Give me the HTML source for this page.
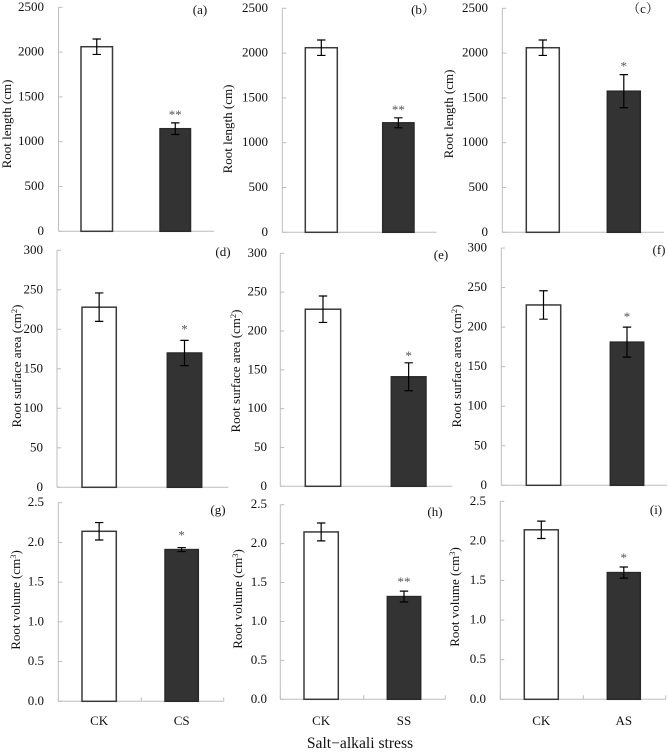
<!DOCTYPE html>
<html>
<head>
<meta charset="utf-8">
<title>Root traits under salt-alkali stress</title>
<style>
html,body{margin:0;padding:0;background:#fff;}
svg{display:block;filter:blur(0.3px);}
text{font-family:"Liberation Serif","Noto Serif CJK SC",serif;fill:#111;}
</style>
</head>
<body>
<svg id="figure" xmlns="http://www.w3.org/2000/svg" width="668" height="752" viewBox="0 0 668 752"></svg>
<script>
// ---- chart data ----
const stressCategories = ["CS", "SS", "AS"];
const controlCategory = "CK";
const panelLetters = ["(a)", "(b\uFF09", "\uFF08c\uFF09", "(d)", "(e)", "(f)", "(g)", "(h)", "(i)"];

const lengthTicks = [0, 500, 1000, 1500, 2000, 2500];
const areaTicks = [0, 50, 100, 150, 200, 250, 300];
const volumeTicks = [0, 0.5, 1, 1.5, 2, 2.5];

const lengthControlMeans = [2060, 2060, 2060];
const lengthControlErrors = [86, 86, 86];
const lengthStressMeans = [1145, 1222, 1575];
const lengthStressErrors = [65, 56, 185];
const lengthStars = ["**", "**", "*"];

const areaControlMeans = [228, 228, 228];
const areaControlErrors = [18, 17, 18];
const areaStressMeans = [170, 141, 181];
const areaStressErrors = [16, 18, 19];
const areaStars = ["*", "*", "*"];

const volumeControlMeans = [2.14, 2.15, 2.14];
const volumeControlErrors = [0.11, 0.115, 0.11];
const volumeStressMeans = [1.91, 1.32, 1.6];
const volumeStressErrors = [0.025, 0.07, 0.07];
const volumeStars = ["*", "**", "*"];

// ---- panel layout (pixel frames, separate from data) ----
const frames = [
  {ax:58.5, rx:214, top:7.3, base:231.3, c:[81,112.5], s:[160,190.5], lr:44, tx:7, ty:124, lx:200, ly:14, gap:10},
  {ax:282.3, rx:436.7, top:8.3, base:232.3, c:[305.3,337.3], s:[382.7,414], lr:268, tx:228, ty:129, lx:423, ly:14, gap:10},
  {ax:502.3, rx:664, top:8.3, base:232.3, c:[526.3,559.3], s:[607.3,640.3], lr:488, tx:449, ty:114, lx:643, ly:13, gap:10},
  {ax:57, rx:228.3, top:250.3, base:487.3, c:[82,116.3], s:[167.3,201.7], lr:43, tx:17, ty:366, lx:223, ly:256, gap:13},
  {ax:280.3, rx:452.3, top:253.3, base:486.3, c:[305.3,340.7], s:[391.3,426], lr:267, tx:236, ty:371, lx:441, ly:259, gap:9},
  {ax:501.3, rx:667, top:248, base:485.3, c:[526.3,560.7], s:[610.3,643.7], lr:487, tx:457, ty:366, lx:659, ly:254, gap:12},
  {ax:58.3, rx:223.7, top:502.7, base:701.3, c:[82,116.3], s:[165,198.3], lr:44, tx:16, ty:600, lx:218, ly:514, gap:14, mid:141.3},
  {ax:280.3, rx:445.3, top:504.7, base:699.3, c:[304,338.3], s:[387.3,420.7], lr:267, tx:238, ty:599, lx:435, ly:516, gap:11, mid:363.7},
  {ax:500.3, rx:665.7, top:501.3, base:699.3, c:[524.3,558.3], s:[607.3,640.3], lr:486, tx:455, ty:597, lx:656, ly:514, gap:11, mid:583.3}
];

const metrics = [
  {key:"root-length", title:"Root length (cm)", sup:"", ticks:lengthTicks, digits:0, cm:lengthControlMeans, ce:lengthControlErrors, sm:lengthStressMeans, se:lengthStressErrors, stars:lengthStars},
  {key:"root-surface-area", title:"Root surface area (cm", sup:"2", ticks:areaTicks, digits:0, cm:areaControlMeans, ce:areaControlErrors, sm:areaStressMeans, se:areaStressErrors, stars:areaStars},
  {key:"root-volume", title:"Root volume (cm", sup:"3", ticks:volumeTicks, digits:1, cm:volumeControlMeans, ce:volumeControlErrors, sm:volumeStressMeans, se:volumeStressErrors, stars:volumeStars}
];

const NS = "http://www.w3.org/2000/svg";
const figure = document.getElementById("figure");

function make(tag, attrs, parent, text) {
  const el = document.createElementNS(NS, tag);
  for (const k in attrs) el.setAttribute(k, attrs[k]);
  if (text !== undefined) el.textContent = text;
  parent.appendChild(el);
  return el;
}

const AXIS = "#bdbdbd";

function drawBar(group, x0, x1, yScale, mean, err, isStress, name) {
  const yTop = yScale(mean);
  const yBase = yScale(0);
  const bar = make("rect", {
    x: x0, y: yTop, width: x1 - x0, height: yBase - yTop,
    fill: isStress ? "#333333" : "#ffffff",
    stroke: isStress ? "#2a2a2a" : "#3a3a3a",
    "stroke-width": 1.5
  }, group);
  
  

  const cx = (x0 + x1) / 2;
  const yHi = yScale(mean + err);
  const yLo = yScale(mean - err);
  const ePath = "M" + (cx - 4.2) + " " + yHi + "H" + (cx + 4.2) +
                "M" + cx + " " + yHi + "V" + yLo +
                "M" + (cx - 4.2) + " " + yLo + "H" + (cx + 4.2);
  const eb = make("path", {d: ePath, fill: "none", stroke: "#000", "stroke-width": 1.2}, group);
  
  
  return {cx: cx, yHi: yHi};
}

frames.forEach(function (f, i) {
  const m = metrics[Math.floor(i / 3)];
  const col = i % 3;
  const letter = "abcdefghi"[i];

  const group = make("g", {}, figure);
  
  

  const maxTick = m.ticks[m.ticks.length - 1];
  const yScale = function (v) { return f.base - (v / maxTick) * (f.base - f.top); };

  const yAxis = make("line", {x1: f.ax, x2: f.ax, y1: f.top, y2: f.base, stroke: AXIS, "stroke-width": 1}, group);
  
  

  const xAxis = make("line", {x1: f.ax, x2: f.rx, y1: f.base, y2: f.base, stroke: AXIS, "stroke-width": 1}, group);
  
  

  m.ticks.forEach(function (t) {
    const y = yScale(t);
    const tick = make("line", {x1: f.ax, x2: f.ax + 4, y1: y, y2: y, stroke: AXIS, "stroke-width": 1}, group);
    
    

    const label = make("text", {x: f.lr, y: y + 3.5, "text-anchor": "end", "font-size": 13}, group, t.toFixed(m.digits));
    
    
  });

  const title = make("text", {
    x: 0, y: 0, "text-anchor": "middle", "font-size": 13,
    transform: "translate(" + (f.tx + 4) + " " + f.ty + ") rotate(-90)"
  }, group, m.title);
  if (m.sup) {
    make("tspan", {dy: -4, "font-size": 8.5}, title, m.sup);
    make("tspan", {dy: 4}, title, ")");
  }
  
  

  drawBar(group, f.c[0], f.c[1], yScale, m.cm[col], m.ce[col], false, 'control');
  const s = drawBar(group, f.s[0], f.s[1], yScale, m.sm[col], m.se[col], true, 'stress');

  const star = make("text", {x: s.cx, y: s.yHi - f.gap + 6, "text-anchor": "middle", "font-size": 13, style: "fill:#555"}, group, m.stars[col]);
  
  

  const pl = make("text", {x: f.lx, y: f.ly, "text-anchor": "middle", "font-size": 13}, group, panelLetters[i]);
  
  

  if (f.mid !== undefined) {
    [f.ax, f.mid, f.rx].forEach(function (tx) {
      const xt = make("line", {x1: tx, x2: tx, y1: f.base - 4, y2: f.base, stroke: AXIS, "stroke-width": 1}, group);
      
      
    });
    const ckLabel = make("text", {x: (f.c[0] + f.c[1]) / 2, y: 725, "text-anchor": "middle", "font-size": 13}, group, controlCategory);
    
    

    const stLabel = make("text", {x: (f.s[0] + f.s[1]) / 2, y: 725, "text-anchor": "middle", "font-size": 13}, group, stressCategories[col]);
    
    
  }
});

const xTitle = make("text", {x: 360, y: 748, "text-anchor": "middle", "font-size": 15.6}, figure, "Salt\u2212alkali stress");


</script>
</body>
</html>
